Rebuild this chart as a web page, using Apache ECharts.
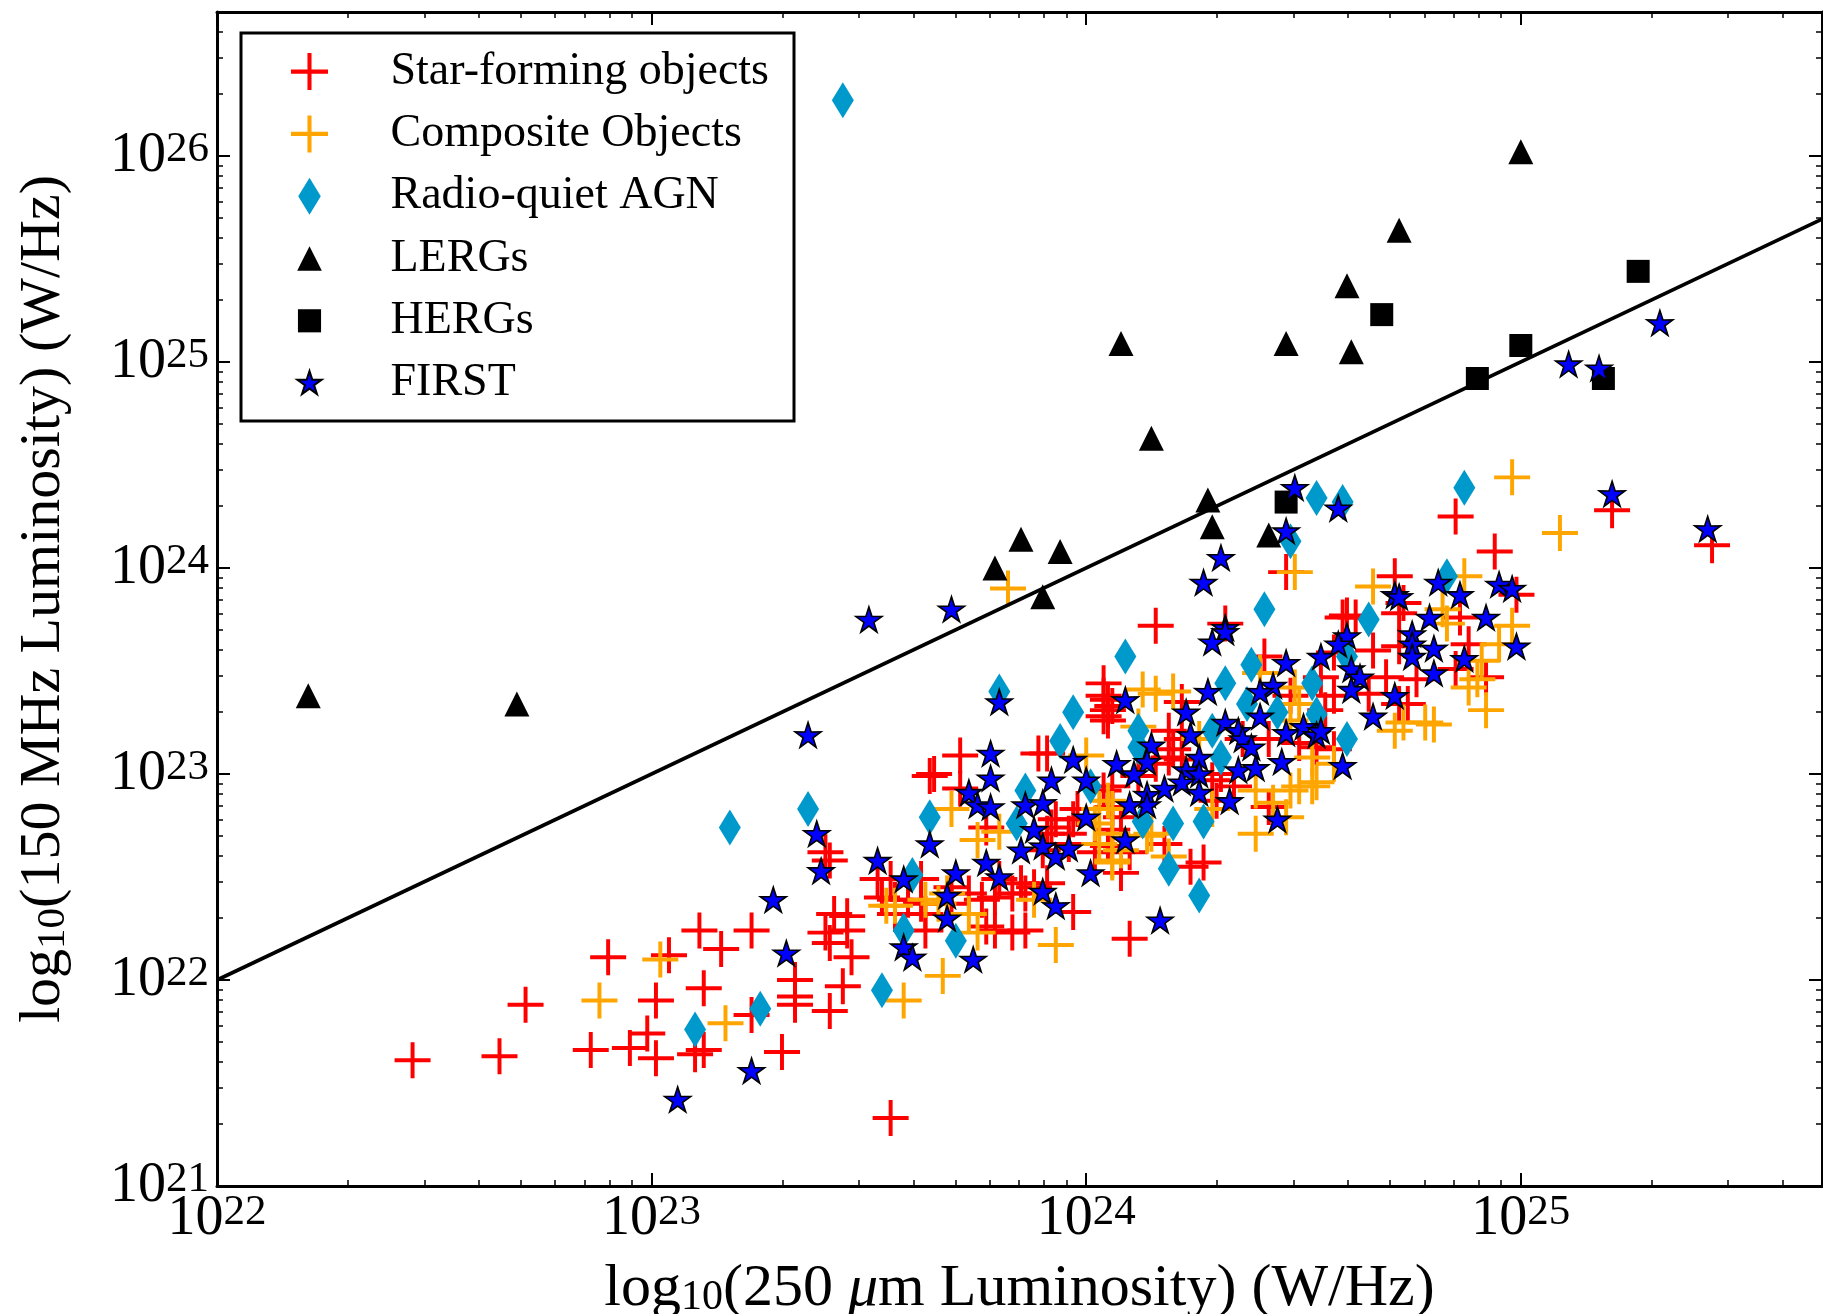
<!DOCTYPE html>
<html>
<head>
<meta charset="utf-8">
<script src="https://cdn.jsdelivr.net/npm/echarts@6/dist/echarts.min.js"></script>
<style>
  html, body { margin: 0; padding: 0; background: #fff; }
  #chart { width: 1823px; height: 1314px; }
</style>
</head>
<body>
<div id="chart"></div>
<script>
// all values are log10 of luminosity in W/Hz: [250um, 150MHz]
var starForming = [
  [22.45,21.61],[22.65,21.63],[22.71,21.88],[22.90,22.11],[22.86,21.66],[23.04,22.12],[23.01,21.90],[23.11,22.24],
  [23.16,22.15],[23.23,22.24],[23.12,21.96],[22.99,21.74],[22.95,21.67],[23.01,21.62],[23.10,21.64],[23.12,21.66],
  [23.23,21.83],[23.30,21.65],[23.55,21.33],
  [23.71,23.09],[23.65,23.00],[23.71,22.93],[24.05,23.26],[23.89,23.10],[23.91,23.10],[23.77,22.74],[23.93,22.78],
  [23.91,22.71],[23.96,22.71],[23.97,22.78],[24.08,22.52],[24.02,22.62],[23.40,22.62],[23.41,22.58],[23.52,22.49],
  [23.53,22.40],[23.56,22.39],[23.56,22.32],[23.59,22.39],[23.62,22.37],[23.63,22.32],[23.63,22.24],[23.69,22.45],
  [23.73,22.42],[23.69,22.37],[23.76,22.39],[23.79,22.40],[23.83,22.42],[23.86,22.42],[23.79,22.24],[23.86,22.24],
  [23.80,22.49],[23.85,22.47],[23.88,22.45],[23.91,22.47],[23.97,22.33],[24.10,22.20],[23.42,22.32],[23.45,22.24],
  [23.41,22.18],[23.46,22.11],[23.44,21.97],[23.41,21.85],[23.33,22.00],[23.33,21.92],[23.33,21.88],
  [23.92,22.74],[23.96,22.66],[23.90,22.63],[23.98,22.83],[24.04,22.92],[24.06,22.84],[24.12,22.99],[24.16,23.05],
  [24.20,23.12],[24.27,22.57],[23.77,22.26],[23.83,22.23],[23.55,22.49],[23.62,22.49],[23.45,22.31],[23.40,22.23],
  [24.04,23.44],[24.06,23.33],[23.64,22.99],[24.04,23.38],[24.04,23.28],
  [24.16,23.72],[24.32,23.73],[24.60,23.77],[24.72,23.78],[24.05,23.31],[24.05,23.36],[24.22,23.35],[24.41,23.57],
  [24.47,23.38],[24.57,23.38],[24.55,23.31],[24.65,23.39],[24.69,23.47],[24.72,23.34],[24.66,23.60],[24.72,23.62],
  [24.57,23.59],[24.54,23.47],[24.36,23.17],[24.42,23.17],[24.49,23.15],[24.53,23.13],[24.57,23.12],[24.42,22.84],
  [24.31,23.00],[24.34,22.94],[24.30,22.87],[24.24,22.55],[24.18,22.66],[24.10,22.62],[24.05,22.65],[24.08,22.79],
  [24.06,22.73],[24.06,22.94],[24.19,23.08],[24.22,23.07],[24.19,23.21],[24.22,23.17],[24.29,22.97],
  [24.46,23.98],[24.71,23.96],[24.73,23.83],[24.85,24.25],[24.59,23.76],[24.62,23.76],
  [25.21,24.28],[25.44,24.11],[24.94,24.08],[24.99,23.87],[24.86,23.76],[24.88,23.63],[24.85,23.51],[24.92,23.47],
  [24.74,23.34],[24.76,23.46]
];

var composite = [
  [22.88,21.90],[23.02,22.10],[23.17,21.79],
  [24.00,23.09],[23.69,22.83],[23.75,22.68],[23.80,22.72],[24.03,22.83],[24.06,22.83],[24.06,22.57],[24.03,22.66],
  [23.56,22.36],[23.63,22.39],[23.66,22.37],[23.68,22.42],[23.73,22.32],[23.75,22.23],[23.88,22.39],[23.93,22.17],
  [23.67,22.02],[23.58,21.90],[23.54,22.36],
  [24.02,22.76],[24.06,22.71],[24.14,22.70],[24.08,22.63],[24.47,22.92],[24.52,22.94],[24.16,23.39],[24.12,23.23],
  [23.82,23.90],
  [24.83,23.73],[24.20,23.40],[24.13,23.41],[24.40,23.49],[24.49,23.34],[24.47,23.26],[24.48,23.42],[24.78,23.25],
  [24.71,23.21],[24.52,23.08],[24.57,23.05],[24.49,22.94],[24.53,22.96],[24.39,22.71],[24.46,22.79],[24.43,22.86],
  [24.39,22.92],[24.29,22.83],[24.19,22.60],[24.15,22.71],[24.06,22.58],[24.05,22.87],[24.26,23.17],
  [24.48,23.98],[24.66,23.91],[24.82,23.80],
  [24.98,24.44],[25.09,24.17],[24.87,23.96],[24.98,23.72],[24.95,23.63],[24.91,23.55],[24.90,23.46],[24.88,23.42],
  [24.92,23.31],[24.80,23.24],[24.73,23.25]
];

var radioQuiet = [
  [23.44,26.27],
  [23.10,21.76],[23.25,21.86],[23.18,22.74],[23.36,22.83],[23.64,22.79],[23.60,22.51],[23.58,22.24],[23.70,22.19],
  [23.53,21.95],[23.97,23.30],[23.94,23.16],[23.86,22.92],[23.84,22.76],[24.01,22.94],[23.80,23.40],
  [24.09,23.57],[24.38,23.53],[24.32,23.44],[24.52,23.44],[24.60,23.57],[24.37,23.34],[24.44,23.30],[24.53,23.29],
  [24.12,23.21],[24.29,23.21],[24.31,23.08],[24.60,23.17],[24.12,23.13],[24.13,22.77],[24.20,22.76],[24.27,22.77],
  [24.19,22.54],[24.26,22.41],
  [24.41,23.80],[24.65,23.75],[24.53,24.34],[24.59,24.32],[24.47,24.13],[24.83,23.96],[24.87,24.39]
];

var lergs = [
  [22.21,23.38],[22.69,23.34],[23.79,24.00],[23.85,24.14],[23.94,24.08],[23.90,23.86],[24.08,25.09],[24.15,24.63],
  [24.28,24.33],[24.29,24.20],[24.42,24.16],[24.46,25.09],[24.60,25.37],[24.61,25.05],[24.72,25.64],[25.00,26.02]
];

var hergs = [
  [24.46,24.32],[24.68,25.23],[24.90,24.92],[25.00,25.08],[25.19,24.92],[25.27,25.44]
];

var first = [
  [23.50,23.75],[23.69,23.80],[24.48,24.39],[24.58,24.29],[24.46,24.18],[24.31,24.05],[24.27,23.93],[24.71,23.87],
  [24.81,23.93],[24.79,23.76],[24.32,23.71],[25.11,24.99],[25.18,24.97],[25.32,25.19],[25.21,24.36],[25.43,24.19],
  [24.86,23.87],[24.95,23.92],[24.98,23.90],[24.92,23.76],[24.75,23.68],[24.75,23.63],[24.80,23.61],[24.75,23.57],
  [24.99,23.62],[24.87,23.56],[24.80,23.49],[24.72,23.86],
  [24.32,23.69],[24.29,23.64],[24.60,23.67],[24.58,23.63],[24.54,23.57],[24.46,23.54],[24.61,23.51],[24.63,23.47],
  [24.61,23.41],[24.43,23.43],[24.40,23.40],[24.71,23.38],[24.28,23.40],[24.09,23.36],[24.40,23.28],[24.66,23.28],
  [24.23,23.30],[24.32,23.25],[24.35,23.21],[24.36,23.17],[24.38,23.13],[24.24,23.19],[24.46,23.20],[24.50,23.23],
  [24.53,23.19],[24.54,23.21],[24.15,23.14],[24.14,23.06],[24.26,23.08],[24.23,23.02],[24.26,23.00],[24.45,23.06],
  [24.35,23.02],[24.39,23.03],[24.59,23.04],[24.18,22.93],[24.22,22.96],[24.14,22.90],[24.14,22.85],[24.26,22.91],
  [24.33,22.87],[24.44,22.78],[24.09,22.68],[24.17,22.29],
  [23.36,23.19],[23.78,23.10],[23.78,22.98],[23.73,22.91],[23.75,22.85],[23.78,22.84],[23.86,22.85],[23.90,22.86],
  [23.97,23.07],[24.00,22.97],[23.92,22.97],[24.07,23.05],[24.11,23.00],[24.10,22.85],[24.00,22.79],[23.88,22.73],
  [23.38,22.71],[23.64,22.66],[23.85,22.63],[23.90,22.65],[23.93,22.60],[23.96,22.64],[23.39,22.53],[23.52,22.58],
  [23.58,22.49],[23.70,22.52],[23.77,22.57],[23.80,22.50],[24.01,22.52],[23.68,22.41],[23.90,22.43],[23.93,22.36],
  [23.68,22.30],[23.58,22.16],[23.60,22.11],[23.74,22.10],[23.31,22.13],[23.80,23.35],
  [23.06,21.42],[23.23,21.56],[23.28,22.39]
];

// 1:1 line
var oneToOne = [[22, 22], [25.693, 25.693]];

var xMin = 22, xMax = 25.693;
var yMin = 21, yMax = 26.699;
var xMajor = [22, 23, 24, 25];
var yMajor = [21, 22, 23, 24, 25, 26];

function minorTicks(lo, hi) {
  var out = [];
  for (var n = Math.floor(lo); n < hi; n++) {
    for (var k = 2; k <= 9; k++) {
      var v = n + Math.log10(k);
      if (v > lo && v < hi) out.push(v);
    }
  }
  return out;
}
var xMinor = minorTicks(xMin, xMax);
var yMinor = minorTicks(yMin, yMax);

var FONT = "'Liberation Serif', 'DejaVu Serif', serif";

var PLUS = 'path://M-0.11,-1 L0.11,-1 L0.11,-0.11 L1,-0.11 L1,0.11 L0.11,0.11 L0.11,1 L-0.11,1 L-0.11,0.11 L-1,0.11 L-1,-0.11 L-0.11,-0.11 Z';
var DIAMOND = 'path://M0,-1.64 L1,0 L0,1.64 L-1,0 Z';
var TRI = 'path://M0,-1 L1,1 L-1,1 Z';
var SQUARE = 'path://M-1,-1 L1,-1 L1,1 L-1,1 Z';
var STAR = 'path://M0,-1 L0.223,-0.307 L0.951,-0.309 L0.361,0.117 L0.588,0.809 L0,0.38 L-0.588,0.809 L-0.361,0.117 L-0.951,-0.309 L-0.223,-0.307 Z';
// legend icons: same shapes padded so they draw smaller inside the icon box
var TRI_L = 'path://M-1.5,-1.5 L-1.5,-1.5 M1.5,1.5 L1.5,1.5 M0,-1 L1,1 L-1,1 Z';
var SQUARE_L = 'path://M-1.6,-1.6 L-1.6,-1.6 M1.6,1.6 L1.6,1.6 M-1,-1 L1,-1 L1,1 L-1,1 Z';
var STAR_L = 'path://M-1.45,-1.5 L-1.45,-1.5 M1.45,1.4 L1.45,1.4 M0,-1 L0.223,-0.307 L0.951,-0.309 L0.361,0.117 L0.588,0.809 L0,0.38 L-0.588,0.809 L-0.361,0.117 L-0.951,-0.309 L-0.223,-0.307 Z';

var tickRich = {
  b: { fontFamily: FONT, fontSize: 56, lineHeight: 56, color: '#000' },
  s: { fontFamily: FONT, fontSize: 43, lineHeight: 23, verticalAlign: 'top', color: '#000' }
};
var nameRich = {
  n: { fontFamily: FONT, fontSize: 60, lineHeight: 60, color: '#000' },
  sub: { fontFamily: FONT, fontSize: 42, lineHeight: 36, verticalAlign: 'bottom', color: '#000' },
  it: { fontFamily: FONT, fontSize: 60, lineHeight: 60, fontStyle: 'italic', color: '#000' }
};
function powLabel(v) {
  return '{b|10}{s|' + Math.round(v) + '}';
}

var gridBox = { left: 217, right: 1, top: 12, bottom: 128, outerBoundsMode: 'none', containLabel: false };

function makeAxis(dim, gridIndex, pos, major, showLabel, showLine) {
  var isX = dim === 'x';
  return {
    type: 'value',
    gridIndex: gridIndex,
    position: pos,
    min: isX ? xMin : yMin,
    max: isX ? xMax : yMax,
    axisLine: { show: showLine, lineStyle: { color: '#000', width: 3 } },
    axisTick: {
      show: true, inside: true,
      length: major ? 13 : 6,
      customValues: major ? (isX ? xMajor : yMajor) : (isX ? xMinor : yMinor),
      lineStyle: { color: '#000', width: major ? 2 : 1.5 }
    },
    axisLabel: {
      show: showLabel,
      customValues: isX ? xMajor : yMajor,
      formatter: powLabel,
      margin: isX ? 5 : 8,
      rich: tickRich
    },
    splitLine: { show: false }
  };
}

var xAxes = [
  makeAxis('x', 0, 'bottom', true, true, true),
  makeAxis('x', 1, 'bottom', false, false, false),
  makeAxis('x', 2, 'top', true, false, true),
  makeAxis('x', 3, 'top', false, false, false)
];
var yAxes = [
  makeAxis('y', 0, 'left', true, true, true),
  makeAxis('y', 1, 'left', false, false, false),
  makeAxis('y', 2, 'right', true, false, true),
  makeAxis('y', 3, 'right', false, false, false)
];
xAxes[0].name = '{n|log}{sub|10}{n|(250 }{it|\u03bc}{n|m Luminosity) (W/Hz)}';
xAxes[0].nameLocation = 'middle';
xAxes[0].nameGap = 73;
xAxes[0].nameTextStyle = { fontFamily: FONT, fontSize: 60, color: '#000', rich: nameRich };
yAxes[0].name = '{n|log}{sub|10}{n|(150 MHz Luminosity) (W/Hz)}';
yAxes[0].nameLocation = 'middle';
yAxes[0].nameGap = 143;
yAxes[0].nameTextStyle = { fontFamily: FONT, fontSize: 58, color: '#000', rich: {
  n: { fontFamily: FONT, fontSize: 58, lineHeight: 60, color: '#000' },
  sub: { fontFamily: FONT, fontSize: 41, lineHeight: 36, verticalAlign: 'bottom', color: '#000' }
} };

function scatter(name, data, symbol, size, color, border) {
  return {
    name: name,
    type: 'scatter',
    data: data,
    symbol: symbol,
    symbolSize: size,
    itemStyle: border
      ? { color: color, borderColor: '#000', borderWidth: 1.6, opacity: 1 }
      : { color: color, opacity: 1 },
    emphasis: { disabled: true },
    silent: true
  };
}

var myChart = echarts.init(document.getElementById('chart'), null, { renderer: 'canvas' });
myChart.setOption({
  animation: false,
  backgroundColor: '#fff',
  grid: [gridBox, gridBox, gridBox, gridBox],
  xAxis: xAxes,
  yAxis: yAxes,
  graphic: [{
    type: 'rect',
    z: 3,
    shape: { x: 241, y: 33, width: 553, height: 388 },
    style: { fill: '#fff', stroke: '#000', lineWidth: 3 }
  }],
  legend: {
    z: 5,
    orient: 'vertical',
    left: 241,
    top: 33,
    padding: [15.6, 10, 10, 49],
    itemWidth: 37,
    itemHeight: 37,
    itemGap: 16.3,
    selectedMode: false,
    textStyle: { fontFamily: FONT, fontSize: 46, color: '#000', padding: [0, 0, 0, 57.5] },
    data: [
      { name: 'Star-forming objects', icon: PLUS },
      { name: 'Composite Objects', icon: PLUS },
      { name: 'Radio-quiet AGN', icon: DIAMOND },
      { name: 'LERGs', icon: TRI_L },
      { name: 'HERGs', icon: SQUARE_L },
      { name: 'FIRST', icon: STAR_L }
    ]
  },
  series: [
    {
      name: 'line',
      type: 'line',
      data: oneToOne,
      showSymbol: false,
      lineStyle: { color: '#000', width: 3.6 },
      silent: true,
      clip: true
    },
    scatter('Star-forming objects', starForming, PLUS, 36, '#ff0000', false),
    scatter('Composite Objects', composite, PLUS, 36, '#ffa500', false),
    scatter('Radio-quiet AGN', radioQuiet, DIAMOND, [22, 36], '#0099cc', false),
    scatter('LERGs', lergs, TRI, 25, '#000000', false),
    scatter('HERGs', hergs, SQUARE, 23, '#000000', false),
    scatter('FIRST', first, STAR, [26, 25], '#0000ff', true)
  ]
});
</script>
</body>
</html>
